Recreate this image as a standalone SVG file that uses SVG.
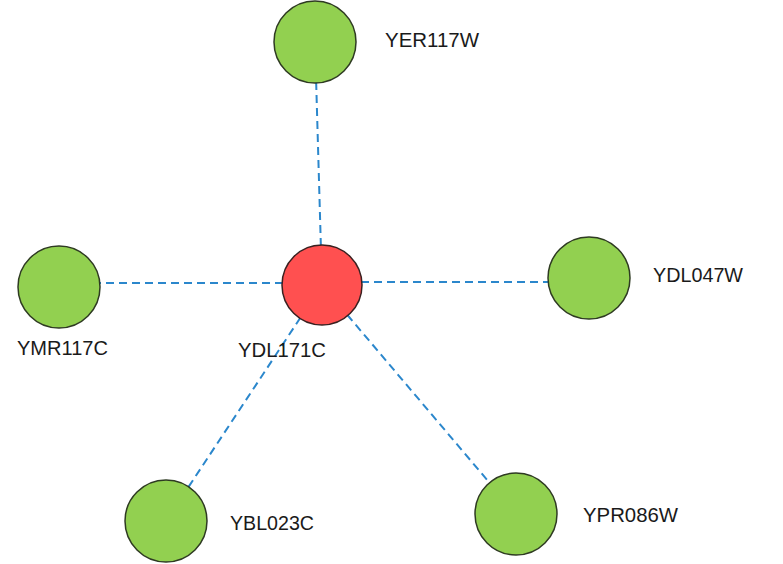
<svg xmlns="http://www.w3.org/2000/svg" width="783" height="564" viewBox="0 0 783 564">
<style>
.bg{fill:#ffffff}
.edge{stroke:#2b87cc;stroke-width:2;stroke-dasharray:8 5;fill:none}
.g{fill:#92d050;stroke:#2e3a22;stroke-width:1.5}
.r{fill:#ff5050;stroke:#3a2020;stroke-width:1.5}
.lbl{font-family:"Liberation Sans",Arial,sans-serif;font-size:20px;fill:#1a1a1a}
</style>
<rect class="bg" x="0" y="0" width="783" height="564"/>
<g id="connectors">
<line class="edge" x1="322" y1="285" x2="315" y2="42"/>
<line class="edge" x1="322" y1="283" x2="59" y2="283"/>
<line class="edge" x1="322" y1="282" x2="589" y2="282"/>
<line class="edge" x1="322" y1="285" x2="166" y2="521"/>
<line class="edge" x1="322" y1="285" x2="516" y2="514"/>
</g>
<g id="YER117W"><circle class="g" cx="315" cy="42" r="41"/><text class="lbl" x="385" y="47" textLength="94" lengthAdjust="spacingAndGlyphs">YER117W</text></g>
<g id="YMR117C"><circle class="g" cx="59" cy="287" r="41"/><text class="lbl" x="17" y="355" textLength="91" lengthAdjust="spacingAndGlyphs">YMR117C</text></g>
<g id="YDL171C"><circle class="r" cx="322" cy="285" r="40"/><text class="lbl" x="238" y="357" textLength="88" lengthAdjust="spacingAndGlyphs">YDL171C</text></g>
<g id="YDL047W"><circle class="g" cx="589" cy="278" r="41"/><text class="lbl" x="653" y="282" textLength="90" lengthAdjust="spacingAndGlyphs">YDL047W</text></g>
<g id="YBL023C"><circle class="g" cx="166" cy="521" r="41"/><text class="lbl" x="230" y="530" textLength="84" lengthAdjust="spacingAndGlyphs">YBL023C</text></g>
<g id="YPR086W"><circle class="g" cx="516" cy="514" r="41"/><text class="lbl" x="583" y="522" textLength="95" lengthAdjust="spacingAndGlyphs">YPR086W</text></g>
</svg>
